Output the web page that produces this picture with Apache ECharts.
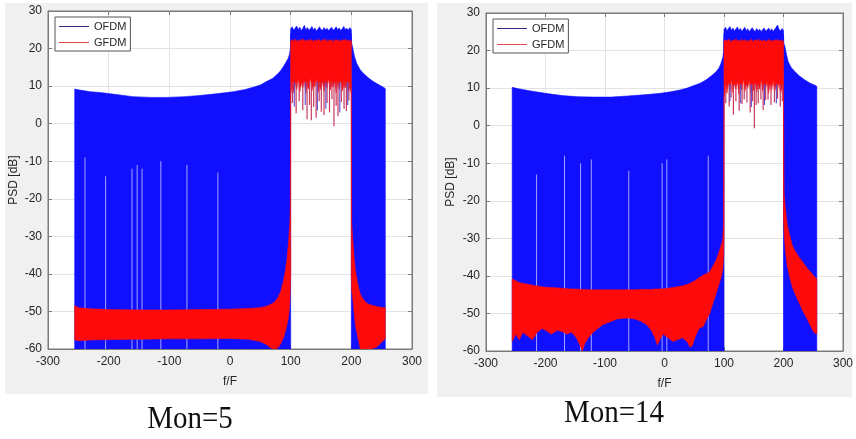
<!DOCTYPE html>
<html>
<head>
<meta charset="utf-8">
<title>PSD OFDM vs GFDM</title>
<script src="https://cdn.jsdelivr.net/npm/echarts@6/dist/echarts.min.js"></script>
<style>
  html, body { margin: 0; padding: 0; background: #ffffff; }
  #chart { width: 856px; height: 439px; }
</style>
</head>
<body>
<div id="chart"></div>
<script>
// ---- Shared labels ----
const seriesNames = ['OFDM', 'GFDM'];
const captions = ['Mon=5', 'Mon=14'];
const xRange = [-300, 300, 100];   // min, max, step of f/F
const yRange = [-60, 30, 10];      // min, max, step of PSD [dB]

// ---- Mon=5 ----
// OFDM upper envelope, lower sideband (-256 .. 100), spectrum reaches the floor below
const ofdmLow5 = [
  [-256, 9.2], [-250, 9.0], [-230, 8.5], [-214, 8.3], [-190, 7.8], [-160, 7.2],
  [-130, 7.0], [-104, 7.0], [-75, 7.2], [-50, 7.5], [-20, 8.0], [5, 8.5],
  [25, 9.1], [38, 9.7], [50, 10.3], [60, 11.2], [70, 12.0], [77, 13.0],
  [83, 14.0], [88, 15.2], [92, 16.3], [96, 17.4], [98, 18.5], [99.5, 20.0], [100, 24.0]
];
// OFDM upper envelope, upper sideband (200 .. 256)
const ofdmHigh5 = [
  [200, 24.0], [200.5, 21.5], [202, 20.5], [205, 18.0], [208.8, 16.1], [214, 14.5],
  [219.8, 13.4], [228, 12.2], [236.3, 11.2], [245, 10.4], [252.8, 9.7], [255.5, 9.4], [256, 9.2]
];
// OFDM in-band region (100 .. 200): [f, low, high]
const ofdmBand5 = [
  [100, 14, 25.2], [102.5, 14, 25.8], [105, 14, 24.9], [107.5, 14, 25.5], [110, 14, 26.0],
  [112.5, 14, 25.1], [115, 14, 25.7], [117.5, 14, 24.8], [120, 14, 25.4], [122.5, 14, 26.2],
  [125, 14, 25.0], [127.5, 14, 25.6], [130, 14, 24.9], [132.5, 14, 25.3], [135, 14, 25.9],
  [137.5, 14, 25.0], [140, 14, 25.5], [142.5, 14, 24.7], [145, 14, 25.2], [147.5, 14, 25.8],
  [150, 14, 25.1], [152.5, 14, 24.9], [155, 14, 25.6], [157.5, 14, 25.0], [160, 14, 25.4],
  [162.5, 14, 24.8], [165, 14, 25.3], [167.5, 14, 25.7], [170, 14, 24.9], [172.5, 14, 25.2],
  [175, 14, 25.8], [177.5, 14, 25.0], [180, 14, 25.5], [182.5, 14, 24.8], [185, 14, 25.3],
  [187.5, 14, 25.9], [190, 14, 25.1], [192.5, 14, 25.4], [195, 14, 24.9], [197.5, 14, 25.6],
  [200, 14, 25.0]
];
// light gaps in the OFDM comb: [f, top of gap]
const gaps5 = [[-239, -9], [-161.5, -12], [-153, -11], [-145, -12], [-114, -10], [-71, -11], [-205, -14], [-20, -13]];
// GFDM out-of-band floor, lower side: [f, low, high]
const gfdmLow5 = [
  [-256, -57.5, -48.5], [-250, -57.8, -49.0], [-230, -57.6, -49.3], [-200, -57.5, -49.5],
  [-150, -57.4, -49.6], [-100, -57.3, -49.6], [-50, -57.3, -49.5], [0, -57.2, -49.4],
  [30, -57.4, -49.2], [50, -58.0, -49.0], [60, -58.8, -48.6], [66, -59.6, -48.2],
  [71, -60.0, -47.8], [76, -60.0, -47.0], [80, -59.5, -46.0], [84, -58.5, -44.5],
  [88, -57.0, -42.0], [91, -55.5, -39.5], [94, -53.5, -36.0], [96.5, -51.5, -31.5],
  [98.5, -48.0, -27.0], [99.5, -44.0, -22.0], [100, -40.0, 7.5]
];
// GFDM out-of-band floor, upper side
const gfdmHigh5 = [
  [200, -40.0, 7.8], [200.5, -44.0, -26.0], [202, -46.0, -30.0], [204.4, -50.0, -35.4],
  [207, -54.0, -39.5], [211.5, -57.5, -43.4], [215, -60.0, -45.5], [220, -60.0, -46.8],
  [225.3, -60.0, -47.8], [232, -60.0, -48.3], [241.8, -59.5, -48.7], [248, -58.5, -48.9],
  [256, -57.2, -49.0]
];
// GFDM in-band region: [f, low, high]
const gfdmBand5 = [
  [100, 7.5, 22.0], [102.5, 10.5, 22.4], [105, 8.2, 21.9], [107.5, 11.0, 22.5], [110, 9.0, 22.2],
  [112.5, 12.0, 21.8], [115, 8.5, 22.4], [117.5, 10.8, 22.1], [120, 9.5, 22.6], [122.5, 11.5, 22.0],
  [125, 8.0, 22.3], [127.5, 10.2, 21.9], [130, 9.2, 22.5], [132.5, 12.2, 22.1], [135, 8.8, 22.4],
  [137.5, 10.5, 21.8], [140, 9.8, 22.3], [142.5, 11.8, 22.0], [145, 8.3, 22.5], [147.5, 10.0, 22.2],
  [150, 9.0, 21.9], [152.5, 11.2, 22.4], [155, 8.6, 22.1], [157.5, 10.7, 22.6], [160, 9.4, 21.9],
  [162.5, 12.0, 22.3], [165, 8.9, 22.0], [167.5, 10.4, 22.4], [170, 9.7, 21.8], [172.5, 11.3, 22.2],
  [175, 8.2, 22.5], [177.5, 10.9, 22.0], [180, 9.1, 22.3], [182.5, 11.6, 21.9], [185, 8.7, 22.4],
  [187.5, 10.3, 22.1], [190, 9.5, 22.5], [192.5, 11.0, 22.0], [195, 8.4, 22.3], [197.5, 9.8, 21.9],
  [200, 7.8, 22.2]
];
// deep in-band dips: [f, bottom]
const redDips5 = [
  [103, 5.5], [109, 2.8], [114, 6.0], [120, 3.6], [127, 1.2], [131, 5.0], [134, 0.9], [138, 4.5],
  [142, 1.6], [147, 6.0], [150.5, 3.2], [155, 2.3], [160, 5.5], [164, 3.0], [168, 6.5], [171.4, -0.7],
  [175, 4.8], [178, 2.0], [183.5, 5.8], [188, 4.0], [191.8, 3.4], [196, 6.2]
];
const blueDips5 = [[106, 4.5], [124, 5.0], [144, 3.5], [158, 4.0], [181, 3.0], [194, 5.0]];

// ---- Mon=14 ----
const ofdmLow14 = [
  [-256, 10.2], [-245, 9.8], [-227, 9.3], [-200, 8.6], [-172, 8.0], [-145, 7.7],
  [-117, 7.6], [-90, 7.6], [-62, 7.9], [-35, 8.2], [-7, 8.6], [10, 9.0],
  [26, 9.5], [38, 10.0], [48, 10.6], [60, 11.3], [70, 12.2], [79, 13.3],
  [87, 14.4], [92, 15.5], [95, 16.6], [98, 18.2], [99.5, 20.0], [100, 24.5]
];
const ofdmHigh14 = [
  [200, 24.5], [200.5, 22.0], [202.5, 21.0], [205, 19.0], [208, 17.0], [213, 15.5],
  [219, 14.4], [227, 13.2], [235.5, 12.2], [245, 11.3], [254.9, 10.6], [256, 10.4]
];
const ofdmBand14 = [
  [100, 14, 25.6], [102.5, 14, 26.2], [105, 14, 25.3], [107.5, 14, 25.9], [110, 14, 26.4],
  [112.5, 14, 25.4], [115, 14, 26.0], [117.5, 14, 25.2], [120, 14, 25.8], [122.5, 14, 26.3],
  [125, 14, 25.4], [127.5, 14, 25.9], [130, 14, 25.1], [132.5, 14, 25.7], [135, 14, 26.2],
  [137.5, 14, 25.3], [140, 14, 25.8], [142.5, 14, 25.0], [145, 14, 25.6], [147.5, 14, 26.1],
  [150, 14, 25.4], [152.5, 14, 25.1], [155, 14, 25.9], [157.5, 14, 25.3], [160, 14, 25.7],
  [162.5, 14, 25.0], [165, 14, 25.6], [167.5, 14, 26.0], [170, 14, 25.2], [172.5, 14, 25.5],
  [175, 14, 26.0], [177.5, 14, 25.3], [180, 14, 25.8], [182.5, 14, 25.1], [185, 14, 25.6],
  [187.5, 14, 26.2], [190, 14, 26.8], [192.5, 14, 25.7], [195, 14, 25.2], [197.5, 14, 25.9],
  [200, 14, 25.4]
];
const gaps14 = [[-168, -8], [-141, -10], [-123, -9], [-4, -10], [4, -9], [73.5, -8], [-215, -13], [-60, -12]];
const gfdmLow14 = [
  [-256, -57.5, -40.8], [-250, -55.5, -41.3], [-244, -57.0, -41.8], [-238, -55.0, -42.0],
  [-230, -56.0, -42.2], [-222, -57.0, -42.5], [-214, -55.0, -42.7], [-206, -54.0, -42.9],
  [-200, -54.5, -43.0], [-190, -55.5, -43.1], [-180, -54.5, -43.2], [-172, -54.8, -43.3],
  [-164, -55.5, -43.4], [-156, -55.0, -43.5], [-148, -56.5, -43.5], [-142, -58.5, -43.6],
  [-138, -60.0, -43.6], [-134, -58.0, -43.6], [-128, -56.5, -43.7], [-120, -55.0, -43.7],
  [-112, -54.0, -43.7], [-104, -53.0, -43.7], [-96, -52.5, -43.7], [-88, -52.0, -43.7],
  [-80, -51.5, -43.7], [-70, -51.3, -43.7], [-60, -51.2, -43.7], [-50, -51.5, -43.7],
  [-40, -52.0, -43.6], [-30, -53.0, -43.6], [-22, -54.5, -43.6], [-16, -56.5, -43.5],
  [-12, -58.4, -43.5], [-8, -57.0, -43.5], [-2, -55.5, -43.4], [6, -56.5, -43.3],
  [14, -57.5, -43.1], [22, -57.0, -42.9], [30, -56.5, -42.7], [38, -57.5, -42.3],
  [43, -59.0, -42.0], [47, -58.5, -41.6], [52, -56.0, -41.2], [58, -54.0, -40.5],
  [65, -53.5, -39.8], [71, -51.5, -39.4], [76, -50.0, -38.9], [81, -47.5, -37.5],
  [86.8, -44.6, -35.8], [91, -42.5, -34.0], [95, -40.5, -32.0], [97.8, -38.4, -30.4],
  [99.3, -35.0, -26.0], [100, -30.0, 7.5]
];
const gfdmHigh14 = [
  [200, -25.0, 8.0], [201, -28.0, -18.0], [203, -33.0, -22.0], [206, -37.0, -26.0],
  [210, -40.0, -29.0], [215, -43.0, -32.0], [220, -45.0, -33.5], [226, -47.0, -35.0],
  [233, -49.5, -36.5], [240, -51.5, -38.0], [246, -53.5, -39.0], [251, -55.0, -40.0],
  [256, -55.5, -40.8]
];
const gfdmBand14 = [
  [100, 7.5, 22.6], [102.5, 10.8, 22.9], [105, 8.6, 22.4], [107.5, 11.4, 23.0], [110, 9.3, 22.7],
  [112.5, 12.2, 22.3], [115, 8.8, 22.9], [117.5, 11.1, 22.6], [120, 9.8, 23.1], [122.5, 11.8, 22.5],
  [125, 8.4, 22.8], [127.5, 10.6, 22.4], [130, 9.5, 23.0], [132.5, 12.4, 22.6], [135, 9.1, 22.9],
  [137.5, 10.9, 22.3], [140, 10.1, 22.8], [142.5, 12.0, 22.5], [145, 8.7, 23.0], [147.5, 10.4, 22.7],
  [150, 9.3, 22.4], [152.5, 11.5, 22.9], [155, 8.9, 22.6], [157.5, 11.0, 23.1], [160, 9.7, 22.4],
  [162.5, 12.3, 22.8], [165, 9.2, 22.5], [167.5, 10.8, 22.9], [170, 10.0, 22.3], [172.5, 11.6, 22.7],
  [175, 8.6, 23.0], [177.5, 11.2, 22.5], [180, 9.4, 22.8], [182.5, 11.9, 22.4], [185, 9.0, 22.9],
  [187.5, 10.6, 22.6], [190, 9.8, 23.0], [192.5, 11.3, 22.5], [195, 8.7, 22.8], [197.5, 10.1, 22.4],
  [200, 8.0, 22.7]
];
const redDips14 = [
  [103, 6.0], [108.7, 5.1], [112, 7.5], [115.8, 2.9], [120, 6.5], [125.5, 4.0], [130.4, 5.8],
  [134, 7.0], [138.6, 6.2], [144, 3.5], [148, 6.5], [151, -0.7], [154, 5.5], [157.6, 6.0],
  [162, 7.0], [165.8, 4.2], [170, 6.8], [174, 7.0], [179, 5.5], [184.8, 6.2], [190, 7.2],
  [194.6, 5.1], [198, 6.5]
];
const blueDips14 = [[110, 6.5], [128, 6.0], [146, 5.0], [168, 5.5], [188, 6.0]];

// ---- Colours ----
const BLUE = '#1010ff';
const RED = '#ff0a0a';
const FLOOR = yRange[0];

// A filled region between a low and a high edge: rows are [f, low, high]
function bandSeries(name, rows, color, axis) {
  return {
    type: 'custom', name: name, xAxisIndex: axis, yAxisIndex: axis,
    clip: true, silent: true, data: rows,
    encode: { x: 0, y: [1, 2] },
    renderItem: function (params, api) {
      if (params.dataIndexInside !== 0) return null;
      const n = params.dataInsideLength;
      const upper = [], lower = [];
      for (let i = 0; i < n; i++) {
        const f = api.value(0, i);
        upper.push(api.coord([f, api.value(2, i)]));
        lower.push(api.coord([f, api.value(1, i)]));
      }
      return {
        type: 'polygon',
        shape: { points: upper.concat(lower.reverse()) },
        style: { fill: color, stroke: color, lineWidth: 0.6 }
      };
    }
  };
}
// Envelope filled down to the plot floor
function floorSeries(name, env, color, axis) {
  return bandSeries(name, env.map(function (p) { return [p[0], FLOOR, p[1]]; }), color, axis);
}
// Thin vertical strokes between two levels: rows are [f, bottom, top]
function strokeSeries(name, rows, color, width, axis) {
  return {
    type: 'custom', name: name, xAxisIndex: axis, yAxisIndex: axis,
    clip: true, silent: true, data: rows,
    encode: { x: 0, y: [1, 2] },
    renderItem: function (params, api) {
      const a = api.coord([api.value(0), api.value(2)]);
      const b = api.coord([api.value(0), api.value(1)]);
      return {
        type: 'line',
        shape: { x1: a[0], y1: a[1], x2: b[0], y2: b[1] },
        style: { stroke: color, lineWidth: width }
      };
    }
  };
}

function panelSeries(axis, d) {
  const gapRows = d.gaps.map(function (g) { return [g[0], FLOOR, g[1]]; });
  const dipRows = function (list) { return list.map(function (p) { return [p[0], p[1], 11]; }); };
  return [
    floorSeries(seriesNames[0], d.low, BLUE, axis),
    floorSeries(seriesNames[0], d.high, BLUE, axis),
    strokeSeries('gaps', gapRows, 'rgba(225,225,255,0.7)', 1, axis),
    bandSeries(seriesNames[0], d.band, BLUE, axis),
    bandSeries(seriesNames[1], d.gLow, RED, axis),
    bandSeries(seriesNames[1], d.gHigh, RED, axis),
    bandSeries(seriesNames[1], d.gBand, RED, axis),
    strokeSeries('dips', dipRows(d.redDips), '#c8385c', 1.2, axis),
    strokeSeries('dips', dipRows(d.blueDips), '#5a4ad0', 1.1, axis)
  ];
}

const panels = [
  { low: ofdmLow5, high: ofdmHigh5, band: ofdmBand5, gaps: gaps5, gLow: gfdmLow5, gHigh: gfdmHigh5,
    gBand: gfdmBand5, redDips: redDips5, blueDips: blueDips5 },
  { low: ofdmLow14, high: ofdmHigh14, band: ofdmBand14, gaps: gaps14, gLow: gfdmLow14, gHigh: gfdmHigh14,
    gBand: gfdmBand14, redDips: redDips14, blueDips: blueDips14 }
];

const grids = [
  { left: 48, top: 11, width: 364, height: 338 },
  { left: 486, top: 13, width: 363, height: 338 }
];
const yNameGap = [28, 29];

const AXIS_COL = '#7a7a7a';
const TXT = '#262626';
const FONT = 'Liberation Sans, Arial, sans-serif';

const xAxes = [], yAxes = [], series = [], legends = [];
grids.forEach(function (g, i) {
  // bottom and left axes carry labels, top and right mirror the ticks
  xAxes.push({
    type: 'value', gridIndex: i, min: xRange[0], max: xRange[1], interval: xRange[2],
    name: 'f/F', nameLocation: 'middle', nameGap: 27,
    nameTextStyle: { color: TXT, fontSize: 12, fontFamily: FONT },
    axisLine: { show: true, onZero: false, lineStyle: { color: AXIS_COL, width: 1 } },
    axisTick: { inside: true, length: 4, lineStyle: { color: AXIS_COL } },
    axisLabel: { color: TXT, fontSize: 12, fontFamily: FONT, margin: 7 },
    splitLine: { show: true, lineStyle: { color: '#e3e3e3', width: 1 } }
  });
  xAxes.push({
    type: 'value', gridIndex: i, position: 'top', min: xRange[0], max: xRange[1], interval: xRange[2],
    axisLine: { show: true, onZero: false, lineStyle: { color: AXIS_COL, width: 1 } },
    axisTick: { inside: true, length: 4, lineStyle: { color: AXIS_COL } },
    axisLabel: { show: false }, splitLine: { show: false }
  });
  yAxes.push({
    type: 'value', gridIndex: i, min: yRange[0], max: yRange[1], interval: yRange[2],
    name: 'PSD [dB]', nameLocation: 'middle', nameGap: yNameGap[i],
    nameTextStyle: { color: TXT, fontSize: 12, fontFamily: FONT },
    axisLine: { show: true, onZero: false, lineStyle: { color: AXIS_COL, width: 1 } },
    axisTick: { inside: true, length: 4, lineStyle: { color: AXIS_COL } },
    axisLabel: { color: TXT, fontSize: 12, fontFamily: FONT, margin: 6 },
    splitLine: { show: true, lineStyle: { color: '#e3e3e3', width: 1 } }
  });
  yAxes.push({
    type: 'value', gridIndex: i, position: 'right', min: yRange[0], max: yRange[1], interval: yRange[2],
    axisLine: { show: true, onZero: false, lineStyle: { color: AXIS_COL, width: 1 } },
    axisTick: { inside: true, length: 4, lineStyle: { color: AXIS_COL } },
    axisLabel: { show: false }, splitLine: { show: false }
  });
  panelSeries(2 * i, panels[i]).forEach(function (s) { series.push(s); });
  legends.push({
    orient: 'vertical', left: g.left + 7, top: g.top + 6,
    icon: 'rect', itemWidth: 30, itemHeight: 1, itemGap: 5,
    padding: [4, 4, 3, 4],
    backgroundColor: '#ffffff', borderColor: '#555555', borderWidth: 1, borderRadius: 0,
    textStyle: { color: TXT, fontSize: 11, fontFamily: FONT },
    data: [
      { name: seriesNames[0], itemStyle: { color: '#2e2e86' } },
      { name: seriesNames[1], itemStyle: { color: '#e04848' } }
    ],
    selectedMode: false
  });
});

const option = {
  animation: false,
  backgroundColor: '#ffffff',
  grid: grids.map(function (g) {
    return Object.assign({ show: true, backgroundColor: '#ffffff', borderColor: AXIS_COL, borderWidth: 1 }, g);
  }),
  xAxis: xAxes,
  yAxis: yAxes,
  legend: legends,
  series: series,
  graphic: [
    { type: 'rect', z: -100, shape: { x: 5, y: 3, width: 423, height: 391 }, style: { fill: '#f0f0f0' } },
    { type: 'rect', z: -100, shape: { x: 437, y: 3, width: 415, height: 394 }, style: { fill: '#f0f0f0' } },
    { type: 'text', z: 100, x: 190, y: 420, scaleY: 1.1,
      style: { text: captions[0], fontFamily: 'Liberation Serif, Times New Roman, serif', fontSize: 29,
        fill: '#111111', textAlign: 'center', textVerticalAlign: 'middle' } },
    { type: 'text', z: 100, x: 614, y: 414, scaleY: 1.1,
      style: { text: captions[1], fontFamily: 'Liberation Serif, Times New Roman, serif', fontSize: 29,
        fill: '#111111', textAlign: 'center', textVerticalAlign: 'middle' } }
  ]
};

const chart = echarts.init(document.getElementById('chart'), null, { renderer: 'canvas' });
chart.setOption(option);
</script>
</body>
</html>
